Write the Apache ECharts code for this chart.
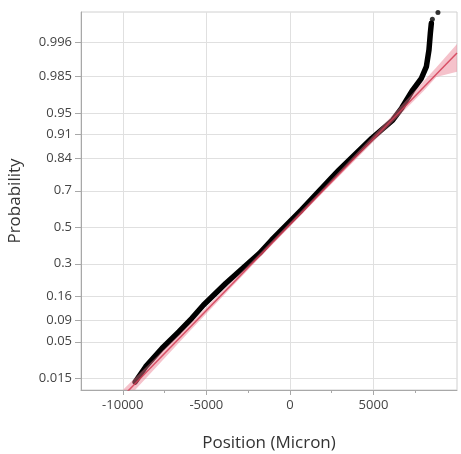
<!DOCTYPE html>
<html>
<head>
<meta charset="utf-8">
<script src="https://cdn.jsdelivr.net/npm/echarts@6/dist/echarts.min.js"></script>
<style>
  html, body { margin: 0; padding: 0; background: #fff; }
  #chart { width: 461px; height: 454px; }
</style>
</head>
<body>
<div id="chart"></div>
<script>
// Probability tick labels on the normal-quantile axis
const probTicks = ['0.015', '0.05', '0.09', '0.16', '0.3', '0.5', '0.7', '0.84', '0.91', '0.95', '0.985', '0.996'];
// Visible probability range of the plot
const probRange = [0.0097, 0.99901];
// Position axis
const posRange = [-12500, 10000];
const posTicks = [-10000, -5000, 0, 5000];
const posMinorTicks = [-7500, -2500, 2500, 7500];

// Ordered observations: position (micron) and plotting probability
const curvePos  = [-9260, -8630, -7650, -6640, -5870, -5170, -3830, -1820, -1090, 690, 2460, 2940, 4900, 6150, 6690, 7348, 7868, 8167, 8322, 8405, 8465];
const curveProb = [0.01312, 0.02259, 0.04106, 0.06681, 0.09552, 0.1321, 0.2105, 0.3544, 0.4276, 0.5982, 0.7593, 0.7948, 0.8995, 0.938, 0.9567, 0.9757, 0.98386, 0.98949, 0.99457, 0.99734, 0.99831];
// Largest two observations drawn as separate points
const topPos  = [8525, 8860];
const topProb = [0.99860, 0.99898];

// Fitted normal line (two end points)
const fitPos  = [-12500, 10000];
const fitProb = [0.00116, 0.99386];

// Confidence band around the fitted line
const bandPos   = [-12500, -9500, -6000, -2000, 2000, 6000, 8000, 8760, 10000];
const bandLower = [0.00079, 0.00824, 0.0677, 0.3142, 0.6932, 0.92976, 0.9750, 0.98461, 0.98732];
const bandUpper = [0.00164, 0.01328, 0.08181, 0.3358, 0.7140, 0.94225, 0.98212, 0.98913, 0.99577];

// Inverse standard normal CDF (Acklam) — maps probability to the quantile axis
function probit(p) {
  const a = [-3.969683028665376e+01, 2.209460984245205e+02, -2.759285104469687e+02, 1.383577518672690e+02, -3.066479806614716e+01, 2.506628277459239e+00];
  const b = [-5.447609879822406e+01, 1.615858368580409e+02, -1.556989798598866e+02, 6.680131188771972e+01, -1.328068155288572e+01];
  const c = [-7.784894002430293e-03, -3.223964580411365e-01, -2.400758277161838e+00, -2.549732539343734e+00, 4.374664141464968e+00, 2.938163982698783e+00];
  const d = [7.784695709041462e-03, 3.224671290700398e-01, 2.445134137142996e+00, 3.754408661907416e+00];
  const pl = 0.02425, ph = 1 - pl;
  let q, r;
  if (p < pl) {
    q = Math.sqrt(-2 * Math.log(p));
    return (((((c[0]*q+c[1])*q+c[2])*q+c[3])*q+c[4])*q+c[5]) / ((((d[0]*q+d[1])*q+d[2])*q+d[3])*q+1);
  }
  if (p <= ph) {
    q = p - 0.5; r = q * q;
    return (((((a[0]*r+a[1])*r+a[2])*r+a[3])*r+a[4])*r+a[5])*q / (((((b[0]*r+b[1])*r+b[2])*r+b[3])*r+b[4])*r+1);
  }
  q = Math.sqrt(-2 * Math.log(1 - p));
  return -(((((c[0]*q+c[1])*q+c[2])*q+c[3])*q+c[4])*q+c[5]) / ((((d[0]*q+d[1])*q+d[2])*q+d[3])*q+1);
}

const zTicks = probTicks.map(s => probit(parseFloat(s)));
const zMin = probit(probRange[0]);
const zMax = probit(probRange[1]);

const pairs = (xs, ps) => xs.map((x, i) => [x, probit(ps[i])]);
const curveData = pairs(curvePos, curveProb);
const topData = pairs(topPos, topProb);
const fitData = pairs(fitPos, fitProb);
// band rows: [position, lower quantile, upper quantile]
const bandData = bandPos.map((x, i) => [x, probit(bandLower[i]), probit(bandUpper[i])]);

const FONT = "'Open Sans', 'Noto Sans', sans-serif";
const gridColor = '#e0e0e0';
const axisColor = '#a8a8a8';

const chart = echarts.init(document.getElementById('chart'), null, { renderer: 'canvas' });
chart.setOption({
  animation: false,
  backgroundColor: '#ffffff',
  grid: {
    left: 81, right: 4, top: 12, bottom: 64,
    outerBoundsMode: 'none', containLabel: false,
    show: true, borderColor: '#d0d0d0', borderWidth: 1, backgroundColor: 'transparent'
  },
  xAxis: [
    {
      type: 'value', min: posRange[0], max: posRange[1],
      name: 'Position (Micron)', nameLocation: 'middle', nameGap: 45,
      nameTextStyle: { fontFamily: FONT, fontSize: 17, color: '#333' },
      axisLine: { show: true, onZero: false, lineStyle: { color: axisColor } },
      axisTick: { show: true, customValues: posTicks, length: 5, lineStyle: { color: axisColor } },
      axisLabel: { customValues: posTicks, fontFamily: FONT, fontSize: 13, color: '#444', margin: 9, formatter: v => String(v) },
      splitLine: { show: true, lineStyle: { color: gridColor } }
    },
    {
      type: 'value', min: posRange[0], max: posRange[1], position: 'bottom',
      axisLine: { show: false, onZero: false },
      axisTick: { show: true, customValues: posMinorTicks, length: 3, lineStyle: { color: axisColor } },
      axisLabel: { show: false },
      splitLine: { show: false }
    }
  ],
  yAxis: {
    type: 'value', min: zMin, max: zMax,
    name: 'Probability', nameLocation: 'middle', nameGap: 57,
    nameTextStyle: { fontFamily: FONT, fontSize: 17, color: '#333' },
    axisLine: { show: true, onZero: false, lineStyle: { color: axisColor } },
    axisTick: { show: true, customValues: zTicks, length: 6, lineStyle: { color: axisColor } },
    axisLabel: {
      customValues: zTicks, fontFamily: FONT, fontSize: 13, color: '#444', margin: 9,
      formatter: v => {
        let best = 0;
        zTicks.forEach((z, i) => { if (Math.abs(z - v) < Math.abs(zTicks[best] - v)) best = i; });
        return probTicks[best];
      }
    },
    splitLine: { show: true, lineStyle: { color: gridColor } }
  },
  series: [
    {
      name: 'observations', type: 'line', data: curveData, z: 2,
      showSymbol: false, symbol: 'none',
      lineStyle: { color: '#000', width: 5.5, cap: 'round', join: 'round' }
    },
    {
      name: 'extremes', type: 'scatter', data: topData, z: 2,
      symbolSize: 5, itemStyle: { color: '#000' }
    },
    {
      name: 'band', type: 'custom', z: 3, clip: true,
      data: [0],
      renderItem: (params, api) => {
        const upper = bandData.map(r => api.coord([r[0], r[2]]));
        const lower = bandData.map(r => api.coord([r[0], r[1]])).reverse();
        return {
          type: 'polygon',
          shape: { points: upper.concat(lower) },
          style: { fill: 'rgba(232, 120, 140, 0.45)' },
          clipPath: {
            type: 'rect',
            shape: { x: params.coordSys.x, y: params.coordSys.y, width: params.coordSys.width, height: params.coordSys.height }
          }
        };
      }
    },
    {
      name: 'fit', type: 'line', data: fitData, z: 4,
      symbol: 'none',
      lineStyle: { color: 'rgba(210, 60, 85, 0.85)', width: 1.5 }
    }
  ]
});
</script>
</body>
</html>
